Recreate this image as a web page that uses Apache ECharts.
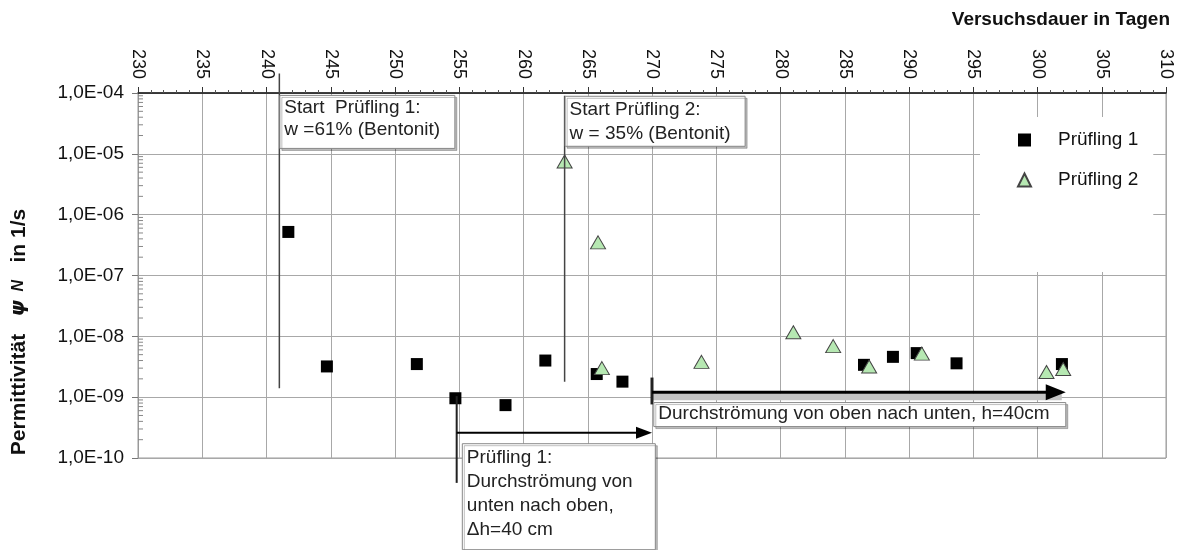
<!DOCTYPE html>
<html><head><meta charset="utf-8">
<script src="https://cdn.jsdelivr.net/npm/echarts@6/dist/echarts.min.js"></script>
<style>html,body{margin:0;padding:0;background:#fff}#c{width:1180px;height:550px}</style>
</head><body><div id="c"></div>
<script>
// ---- data ----
const xTicks = [230, 235, 240, 245, 250, 255, 260, 265, 270, 275, 280, 285, 290, 295, 300, 305, 310];
const yTicks = [1e-10, 1e-9, 1e-8, 1e-7, 1e-6, 1e-5, 1e-4];
const seriesNames = ['Prüfling 1', 'Prüfling 2'];
const days1 = [241.7, 244.7, 251.7, 254.7, 258.6, 261.7, 265.7, 267.7, 286.5, 288.75, 290.6, 293.7, 301.9];
const vals1 = [5.2e-7, 3.2e-9, 3.5e-9, 9.6e-10, 7.4e-10, 4.0e-9, 2.4e-9, 1.8e-9, 3.4e-9, 4.6e-9, 5.3e-9, 3.6e-9, 3.5e-9];
const days2 = [263.2, 265.8, 266.1, 273.85, 281.0, 284.1, 286.9, 291.0, 300.7, 302.0];
const vals2 = [7.5e-6, 3.5e-7, 3.0e-9, 3.8e-9, 1.17e-8, 6.9e-9, 3.2e-9, 5.2e-9, 2.6e-9, 2.9e-9];
const minorY = [2,3,4,5,6,7,8,9];
// annotation texts and anchors (data units)
const box1Text = ['Start  Prüfling 1:', 'w =61% (Bentonit)'];
const box2Text = ['Start Prüfling 2:', 'w = 35% (Bentonit)'];
const box3Text = ['Prüfling 1:', 'Durchströmung von', 'unten nach oben,', 'Δh=40 cm'];
const box4Text = ['Durchströmung von oben nach unten, h=40cm'];
const vLines = [[241.0, 2.1e-4, 1.4e-9], [263.2, 9.0e-5, 1.8e-9], [254.8, 1.04e-9, 3.9e-11], [270.0, 2.1e-9, 7.6e-10]];
const arrows = [[254.8, 270.0, 2.6e-10], [270.0, 302.2, 1.2e-9]];

const FONT = '"Liberation Sans", Arial, sans-serif';
const pts1 = days1.map((d, i) => [d, vals1[i]]);
const pts2 = days2.map((d, i) => [d, vals2[i]]);
const minorData = [];
for (let e = -10; e < -4; e++) minorY.forEach(m => minorData.push([230, m * Math.pow(10, e)]));

const chart = echarts.init(document.getElementById('c'));
chart.setOption({
  animation: false,
  backgroundColor: '#fff',
  grid: { left: 138, right: 14, top: 93, bottom: 92, show: true, borderColor: '#9a9a9a', borderWidth: 1 },
  xAxis: {
    type: 'value', position: 'top', min: xTicks[0], max: xTicks[xTicks.length - 1], interval: 5,
    axisLine: { lineStyle: { color: '#111', width: 1.5 } },
    axisTick: { show: true, length: 6, lineStyle: { color: '#333' } },
    minorTick: { show: true, splitNumber: 5, length: 3, lineStyle: { color: '#555' } },
    splitLine: { show: true, lineStyle: { color: '#a8a8a8', width: 1 } },
    axisLabel: { rotate: 90, fontSize: 18, fontFamily: FONT, color: '#111', margin: 14 }
  },
  yAxis: {
    type: 'log', logBase: 10, min: yTicks[0], max: yTicks[yTicks.length - 1], interval: 1,
    axisLine: { show: true, lineStyle: { color: '#999' } },
    axisTick: { show: true, length: 6, lineStyle: { color: '#777' } },
    splitLine: { show: true, lineStyle: { color: '#a8a8a8', width: 1 } },
    axisLabel: {
      fontSize: 19, fontFamily: FONT, color: '#111', margin: 14,
      formatter: v => { const e = Math.round(Math.log10(v)); return '1,0E-' + String(-e).padStart(2, '0'); }
    }
  },
  legend: {
    data: seriesNames, orient: 'vertical', left: 980, top: 117,
    backgroundColor: '#fff', padding: [12, 15, 81, 37],
    itemWidth: 13, itemHeight: 13, itemGap: 18,
    textStyle: { fontSize: 19, fontFamily: FONT, color: '#111', lineHeight: 22, padding: [0, 0, 0, 22] }
  },
  series: [
    {
      type: 'custom', name: 'minor', silent: true, data: minorData, z: 1,
      encode: { x: 0, y: 1 },
      renderItem: (params, api) => {
        const p = api.coord([api.value(0), api.value(1)]);
        return { type: 'line', shape: { x1: p[0], y1: p[1], x2: p[0] + 5, y2: p[1] }, style: { stroke: '#888', lineWidth: 1 } };
      }
    },
    {
      type: 'scatter', name: seriesNames[0], data: pts1, symbol: 'rect', symbolSize: 12, z: 3,
      itemStyle: { color: '#000', opacity: 1 }
    },
    {
      type: 'scatter', name: seriesNames[1], data: pts2, symbol: 'triangle', symbolSize: [15, 13], z: 4,
      itemStyle: { color: '#b6e8b2', borderColor: '#444', borderWidth: 1, opacity: 1 }
    }
  ]
});

function px(x, y) { return chart.convertToPixel({ gridIndex: 0 }, [x, y]); }
const g = [];
// vertical marker lines
const vw = [1.5, 1.5, 2, 3];
vLines.forEach((l, i) => {
  const a = px(l[0], l[1]), b = px(l[0], l[2]);
  g.push({ type: 'line', z: 50, shape: { x1: a[0], y1: a[1], x2: b[0], y2: b[1] }, style: { stroke: i < 2 ? '#444' : '#222', lineWidth: vw[i] } });
});
// arrows
arrows.forEach((ar, i) => {
  const a = px(ar[0], ar[2]), b = px(ar[1], ar[2]);
  const w = i === 0 ? 2 : 3, hl = i === 0 ? 16 : 20, hw = i === 0 ? 6 : 8;
  if (i === 1) g.push({ type: 'rect', z: 49, shape: { x: a[0], y: a[1] + 1, width: b[0] - a[0] - 4, height: 7 }, style: { fill: '#c4c4c4' } });
  g.push({ type: 'line', z: 51, shape: { x1: a[0], y1: a[1], x2: b[0] - hl + 2, y2: b[1] }, style: { stroke: '#000', lineWidth: w } });
  g.push({ type: 'polygon', z: 51, shape: { points: [[b[0], b[1]], [b[0] - hl, b[1] - hw], [b[0] - hl, b[1] + hw]] }, style: { fill: '#000' } });
});
// text boxes: [anchor day, anchor value, width, height, lines, lineHeight, textTop offset]
const boxes = [
  [241.0, 9.3e-5, 175, 53, box1Text, 22, 2],
  [263.2, 9.0e-5, 180, 50, box2Text, 24, 2],
  [255.2, 1.75e-10, 193, 106, box3Text, 24, 3],
  [270.1, 8.3e-10, 412, 24, box4Text, 24, 0]
];
boxes.forEach(bx => {
  const p = px(bx[0], bx[1]);
  g.push({ type: 'rect', z: 52, shape: { x: p[0] + 0.5, y: p[1] + 0.5, width: bx[2], height: bx[3] },
    style: { fill: '#fff', stroke: '#888', lineWidth: 1, shadowColor: 'rgba(0,0,0,0.25)', shadowOffsetX: 2, shadowOffsetY: 2 } });
  g.push({ type: 'text', z: 53, x: p[0] + 5, y: p[1] + bx[6],
    style: { text: bx[4].join('\n'), font: '19px ' + FONT, fill: '#222', lineHeight: bx[5], textVerticalAlign: 'top' } });
});
// axis titles
g.push({ type: 'text', z: 60, x: 1170, y: 20,
  style: { text: 'Versuchsdauer in Tagen', font: 'bold 19px ' + FONT, fill: '#111', textAlign: 'right', textVerticalAlign: 'middle' } });
g.push({ type: 'text', z: 60, x: 19, y: 332, rotation: Math.PI / 2,
  style: { text: '{a|Permittivität   }{p|ψ}{n|  N}{a|   in 1/s}', textAlign: 'center', textVerticalAlign: 'middle',
    rich: { a: { font: 'bold 21px ' + FONT, fill: '#111' }, p: { font: 'italic bold 20px "DejaVu Sans", sans-serif', fill: '#111' },
      n: { font: 'italic bold 16px ' + FONT, fill: '#111' } } } });
chart.setOption({ graphic: g });
</script>
</body></html>
